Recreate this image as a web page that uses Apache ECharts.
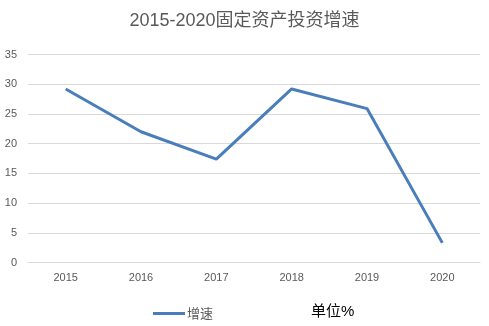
<!DOCTYPE html>
<html><head><meta charset="utf-8">
<script src="https://cdn.jsdelivr.net/npm/echarts@6/dist/echarts.min.js"></script>
<style>html,body{margin:0;padding:0;background:#fff}#c{width:489px;height:326px}</style>
</head><body><div id="c"></div>
<script>
const categories = ['2015','2016','2017','2018','2019','2020'];
const growth = [29.2, 22.0, 17.4, 29.2, 25.9, 3.3];
const yTicks = {min: 0, max: 35, interval: 5};
const titleText = '2015-2020固定资产投资增速';
const seriesName = '增速';
const unitText = '单位%';

const chart = echarts.init(document.getElementById('c'));
chart.setOption({
  animation: false,
  title: [{
    text: titleText, left: 'center', top: 7,
    textStyle: {fontFamily: '"Liberation Sans","Noto Sans CJK SC"', fontSize: 18, fontWeight: 'normal', color: '#595959'}
  }, {
    text: unitText, left: 306, top: 299,
    textStyle: {fontFamily: '"Liberation Sans","Noto Sans CJK SC"', fontSize: 15, fontWeight: 'normal', color: '#000'}
  }],
  legend: {
    data: [seriesName], left: 148, top: 302, itemWidth: 32, itemHeight: 3, itemGap: 4,
    icon: 'rect',
    textStyle: {fontFamily: '"Noto Sans CJK SC"', fontSize: 13, color: '#595959', padding: [0,0,0,-3]}
  },
  grid: {left: 28, right: 9, top: 54.5, bottom: 63.5, containLabel: false},
  xAxis: {
    type: 'category', data: categories, boundaryGap: true,
    axisLine: {lineStyle: {color: '#d9d9d9'}}, axisTick: {show: false},
    axisLabel: {fontFamily: '"Liberation Sans"', fontSize: 11, color: '#595959', margin: 10}
  },
  yAxis: {
    type: 'value', min: yTicks.min, max: yTicks.max, interval: yTicks.interval,
    axisLine: {show: false}, axisTick: {show: false},
    splitLine: {lineStyle: {color: '#d9d9d9'}},
    axisLabel: {fontFamily: '"Liberation Sans"', fontSize: 11, color: '#595959', margin: 11}
  },
  series: [{
    name: seriesName, type: 'line', data: growth, symbol: 'none',
    lineStyle: {color: '#4a7ebb', width: 3}, itemStyle: {color: '#4a7ebb'}
  }]
});
</script></body></html>
